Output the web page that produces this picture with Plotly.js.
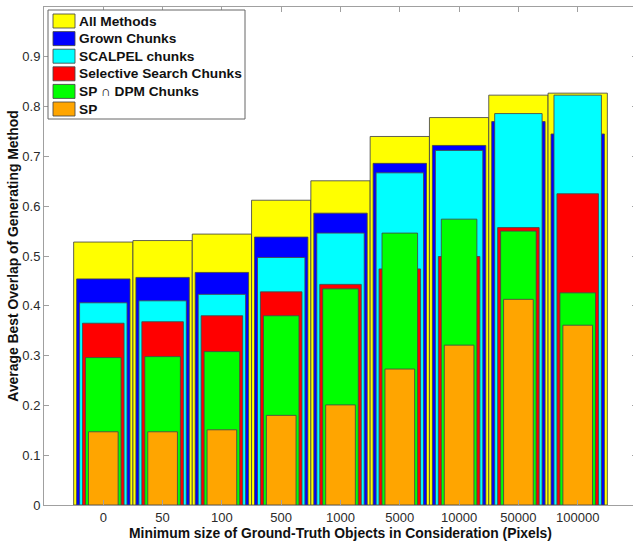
<!DOCTYPE html>
<html>
<head>
<meta charset="utf-8">
<script src="https://cdn.plot.ly/plotly-3.0.1.min.js"></script>
<style>
html,body{margin:0;padding:0;overflow:hidden;background:#fff;}
#chart{width:637px;height:541px;}
</style>
</head>
<body>
<div id="chart"></div>
<script>
// Categories (minimum object size in pixels)
const categories = ['0','50','100','500','1000','5000','10000','50000','100000'];

// Series values (average best overlap)
const allMethods   = [0.528, 0.531, 0.544, 0.612, 0.651, 0.740, 0.778, 0.823, 0.827];
const grownChunks  = [0.454, 0.457, 0.467, 0.538, 0.586, 0.686, 0.722, 0.770, 0.745];
const scalpelChunks= [0.406, 0.410, 0.423, 0.497, 0.546, 0.667, 0.712, 0.786, 0.823];
const selSearch    = [0.365, 0.368, 0.380, 0.428, 0.443, 0.474, 0.499, 0.557, 0.625];
const spDpm        = [0.296, 0.298, 0.308, 0.380, 0.434, 0.546, 0.574, 0.550, 0.426];
const sp           = [0.147, 0.147, 0.151, 0.180, 0.201, 0.273, 0.321, 0.413, 0.361];

const seriesNames = ['All Methods','Grown Chunks','SCALPEL chunks','Selective Search Chunks','SP \u2229 DPM Chunks','SP'];
const seriesValues = [allMethods, grownChunks, scalpelChunks, selSearch, spDpm, sp];
const seriesColors = ['#ffff00','#0000ff','#00ffff','#ff0000','#00ff00','#ffa500'];
const barWidths = [1.0, 0.9, 0.8, 0.7, 0.6, 0.5];

const yTicks = [0,0.1,0.2,0.3,0.4,0.5,0.6,0.7,0.8,0.9,1];

const edgeColor = 'rgba(70,70,70,0.85)';

const traces = seriesNames.map((name, i) => ({
  type: 'bar',
  name: name,
  x: categories,
  y: seriesValues[i],
  width: barWidths[i],
  marker: {color: seriesColors[i], line: {color: edgeColor, width: 1}},
  hoverinfo: 'x+y+name',
  showlegend: false
}));

// Plot geometry (pixels) for the boxed legend drawn in paper coordinates
const W = 637, H = 541;
const M = {l: 44, r: 0, t: 7, b: 36};
const pw = W - M.l - M.r, ph = H - M.t - M.b;
const px = v => (v - M.l) / pw;
const py = v => (H - M.b - v) / ph;

const fontFam = '"Liberation Sans", Arial, sans-serif';
const shapes = [];
const annotations = [];
// legend frame
shapes.push({type: 'rect', xref: 'paper', yref: 'paper', x0: px(48), x1: px(245), y0: py(10), y1: py(119),
  fillcolor: '#fff', line: {color: '#666', width: 1}, layer: 'above'});
seriesNames.forEach((name, i) => {
  const top = 14 + i * 17.6;
  shapes.push({type: 'rect', xref: 'paper', yref: 'paper', x0: px(53), x1: px(75), y0: py(top), y1: py(top + 14),
    fillcolor: seriesColors[i], line: {color: edgeColor, width: 1}, layer: 'above'});
  annotations.push({xref: 'paper', yref: 'paper', x: px(77), y: py(top + 7), xanchor: 'left', yanchor: 'middle',
    text: name, showarrow: false, font: {family: fontFam, size: 13.7, color: '#111', weight: 'bold'}});
});

const axisFont = {family: fontFam, size: 13, color: '#2a2a2a'};
const titleFont = {family: fontFam, size: 13.9, color: '#111', weight: 'bold'};

const layout = {
  width: W,
  height: H,
  margin: M,
  paper_bgcolor: '#fff',
  plot_bgcolor: '#fff',
  barmode: 'overlay',
  bargap: 0,
  showlegend: false,
  shapes: shapes,
  annotations: annotations,
  xaxis: {
    type: 'category',
    categoryorder: 'array',
    categoryarray: categories,
    range: [-1, 9],
    showgrid: false, zeroline: false,
    showline: true, linecolor: '#a0a0a0', linewidth: 1, mirror: 'ticks',
    ticks: 'inside', ticklen: 5, tickcolor: '#a0a0a0',
    tickfont: axisFont,
    automargin: false,
    title: {text: 'Minimum size of Ground-Truth Objects in Consideration (Pixels)', font: titleFont, standoff: 0}
  },
  yaxis: {
    range: [0, 1],
    tickvals: yTicks,
    ticktext: yTicks.map(v => String(v)),
    showgrid: false, zeroline: false,
    showline: true, linecolor: '#a0a0a0', linewidth: 1, mirror: 'ticks',
    ticks: 'inside', ticklen: 5, tickcolor: '#a0a0a0',
    tickfont: axisFont,
    automargin: false,
    title: {text: 'Average Best Overlap of Generating Method', font: titleFont, standoff: 0}
  }
};

Plotly.newPlot('chart', traces, layout, {displayModeBar: false, staticPlot: true});
</script>
</body>
</html>
